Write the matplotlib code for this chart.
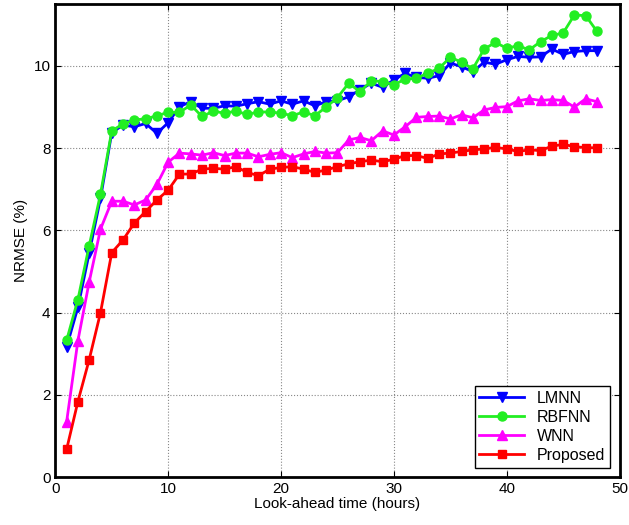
import numpy as np
import matplotlib.pyplot as plt

plt.rcParams['font.family'] = ['Liberation Sans', 'DejaVu Sans']

# Look-ahead hours
hours = np.arange(1, 49)

# NRMSE (%) for each model
lmnn = [3.17, 4.13, 5.45, 6.78, 8.38, 8.56, 8.52, 8.60, 8.36, 8.62,
        9.01, 9.13, 8.97, 8.97, 9.03, 9.02, 9.08, 9.13, 9.07, 9.15,
        9.07, 9.15, 9.03, 9.13, 9.15, 9.25, 9.42, 9.58, 9.48, 9.66,
        9.82, 9.72, 9.70, 9.76, 10.07, 9.98, 9.86, 10.09, 10.04, 10.15,
        10.23, 10.21, 10.22, 10.41, 10.28, 10.35, 10.37, 10.37]
rbfnn = [3.33, 4.32, 5.63, 6.88, 8.42, 8.59, 8.69, 8.71, 8.79, 8.87,
         8.87, 9.05, 8.77, 8.90, 8.85, 8.90, 8.82, 8.88, 8.88, 8.85,
         8.79, 8.88, 8.79, 9.00, 9.23, 9.58, 9.37, 9.64, 9.62, 9.54,
         9.68, 9.70, 9.82, 9.94, 10.21, 10.09, 9.93, 10.41, 10.57, 10.43,
         10.49, 10.39, 10.59, 10.74, 10.80, 11.24, 11.22, 10.84]
wnn = [1.35, 3.32, 4.75, 6.03, 6.71, 6.71, 6.62, 6.74, 7.12, 7.66,
       7.88, 7.86, 7.83, 7.89, 7.82, 7.88, 7.88, 7.79, 7.85, 7.89,
       7.77, 7.86, 7.92, 7.88, 7.89, 8.20, 8.26, 8.18, 8.42, 8.32,
       8.52, 8.75, 8.77, 8.78, 8.71, 8.81, 8.74, 8.93, 8.99, 9.01,
       9.15, 9.20, 9.16, 9.18, 9.16, 9.00, 9.20, 9.13]
proposed = [0.68, 1.84, 2.86, 4.00, 5.46, 5.77, 6.18, 6.46, 6.74, 6.98,
            7.37, 7.37, 7.49, 7.51, 7.49, 7.55, 7.41, 7.33, 7.49, 7.53,
            7.55, 7.49, 7.41, 7.47, 7.55, 7.62, 7.67, 7.71, 7.67, 7.73,
            7.82, 7.82, 7.75, 7.86, 7.88, 7.92, 7.96, 7.98, 8.02, 7.98,
            7.92, 7.96, 7.94, 8.05, 8.09, 8.04, 8.01, 8.01]

fig = plt.figure(figsize=(6.29, 5.25), dpi=100)
ax = fig.add_axes([0.088, 0.091, 0.897, 0.901])

ax.plot(hours, lmnn, color='#0000ff', marker='v', markersize=6.5, linewidth=2, label='LMNN')
ax.plot(hours, rbfnn, color='#22ee22', marker='o', markersize=6.5, linewidth=2, label='RBFNN')
ax.plot(hours, wnn, color='#ff00ff', marker='^', markersize=6.5, linewidth=2, label='WNN')
ax.plot(hours, proposed, color='#ff0000', marker='s', markersize=5.5, linewidth=2, label='Proposed')

ax.set_xlim(0, 50)
ax.set_ylim(0, 11.5)
ax.set_xticks([0, 10, 20, 30, 40, 50])
ax.set_yticks([0, 2, 4, 6, 8, 10])
ax.grid(True, linestyle=':', color='#888888', linewidth=0.8)
ax.tick_params(direction='in', top=True, right=True, labelsize=11, length=4)
for s in ax.spines.values():
    s.set_linewidth(2)

ax.set_xlabel('Look-ahead time (hours)', fontsize=11, labelpad=1)
ax.set_ylabel('NRMSE (%)', fontsize=11)

leg = ax.legend(loc='lower right', fontsize=11.5, fancybox=False, framealpha=1,
                edgecolor='black', handlelength=2.8, borderaxespad=0.6,
                labelspacing=0.25, borderpad=0.3)
leg.get_frame().set_linewidth(1)

fig.savefig('out.png', dpi=100)
